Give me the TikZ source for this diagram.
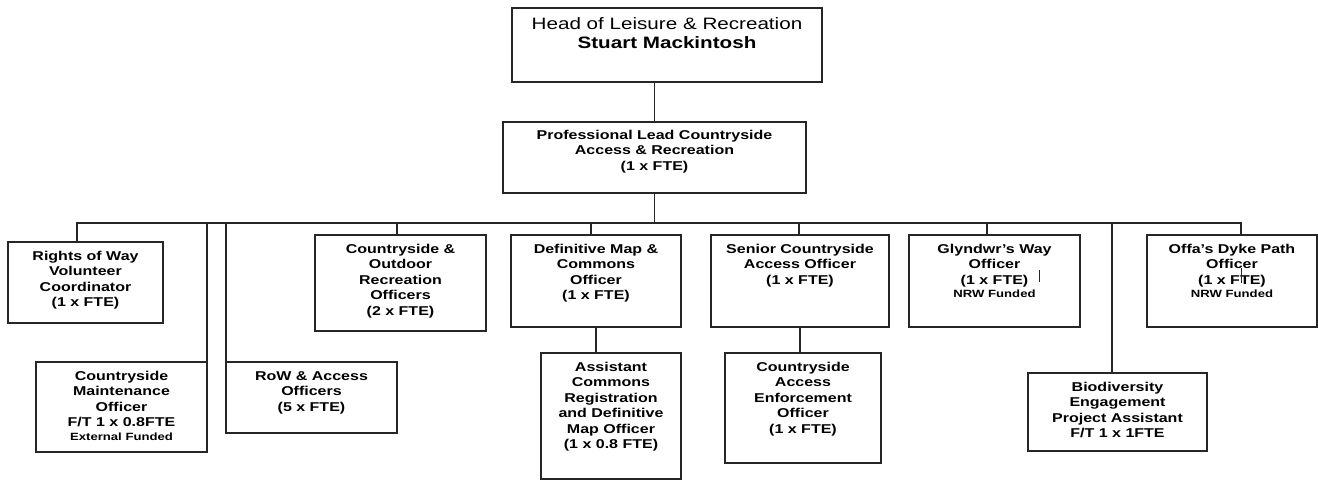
\documentclass[tikz,border=0pt]{standalone}
\usepackage{fontspec}
\setmainfont{Liberation Sans}[FakeStretch=1.25]
\usetikzlibrary{positioning}
\newcommand\funded[1]{{\fontsize{10.5}{12}\selectfont #1}}

\begin{document}
\begin{tikzpicture}[x=1pt,y=-1pt,
  box/.style={draw=black!85,line width=1.5pt,outer sep=0pt,inner sep=0pt,anchor=north west},
  lbl/.style={align=center,inner sep=0pt,font=\fontsize{12.8}{15.5}\selectfont\bfseries},
  link/.style={draw=black!85,line width=1.5pt,line cap=rect}]
\useasboundingbox (0,0) rectangle (1318,480);

% ---- head of service and professional lead ----
\node[box,minimum width=310pt,minimum height=74pt] (head) at (512,8) {};
\node[lbl,font=\fontsize{16.5}{19}\selectfont,below=9pt of head.north] (head-t)
  {Head of Leisure \& Recreation\\\textbf{Stuart Mackintosh}};
\node[box,minimum width=303pt,minimum height=71pt] (prof) at (503,122) {};
\node[lbl,below=8pt of prof.north] (prof-t)
  {Professional Lead Countryside\\Access \& Recreation\\(1 x FTE)};

% ---- the team: name/left/top/width/height/text ----
\foreach \n/\x/\y/\w/\h/\t in {
  rwvc/8/242/155/81/{Rights of Way\\Volunteer\\Coordinator\\(1 x FTE)},
  cmo/36/362/171/90/{Countryside\\Maintenance\\Officer\\F/T 1 x 0.8FTE\\[-2pt]\funded{External Funded}},
  row/226/362/171/71/{RoW \& Access\\Officers\\(5 x FTE)},
  coro/315/235/171/96/{Countryside \&\\Outdoor\\Recreation\\Officers\\(2 x FTE)},
  dmc/511/235/170/92/{Definitive Map \&\\Commons\\Officer\\(1 x FTE)},
  acr/541/353/140/126/{Assistant\\Commons\\Registration\\and Definitive\\Map Officer\\(1 x 0.8 FTE)},
  scao/711/235/178/92/{Senior Countryside\\Access Officer\\(1 x FTE)},
  cae/725/353/156/110/{Countryside\\Access\\Enforcement\\Officer\\(1 x FTE)},
  gwo/909/235/171/92/{Glyndwr's Way\\Officer\\(1 x FTE)\\[-2pt]\funded{NRW Funded}},
  bepa/1028/373/179/78/{Biodiversity\\Engagement\\Project Assistant\\F/T 1 x 1FTE},
  odp/1147/235/170/92/{Offa's Dyke Path\\Officer\\(1 x FTE)\\[-2pt]\funded{NRW Funded}}}{
  \node[box,minimum width=\w pt,minimum height=\h pt] (\n) at (\x,\y) {};
  \node[lbl,below=9pt of \n.north] (\n-t) {\t};
}

% ---- reporting lines ----
\draw[link] (prof.north) -- (prof.north |- head.south);
\coordinate (bus) at (0,223);
\foreach \n/\x in {rwvc/77,cmo/207,row/226,coro/397,dmc/591,scao/799,gwo/987,bepa/1112,odp/1241}{
  \coordinate (drop-\n) at (\x,223);
  \draw[link] (drop-\n) -- (drop-\n |- \n.north);}
\draw[link] (drop-rwvc) -- (drop-odp);
\draw[link] (prof.south) -- (prof.south |- bus);
\draw[link] (dmc.south) -- (dmc.south |- acr.north);
\draw[link] (scao.south) -- (scao.south |- cae.north);

% ---- stray marks in the source ----
\draw[black!85,line width=0.9pt] (1039,270) -- (1039,282);
\draw[black!85,line width=0.8pt] (1241,268) -- (1241,283);
\end{tikzpicture}
\end{document}
